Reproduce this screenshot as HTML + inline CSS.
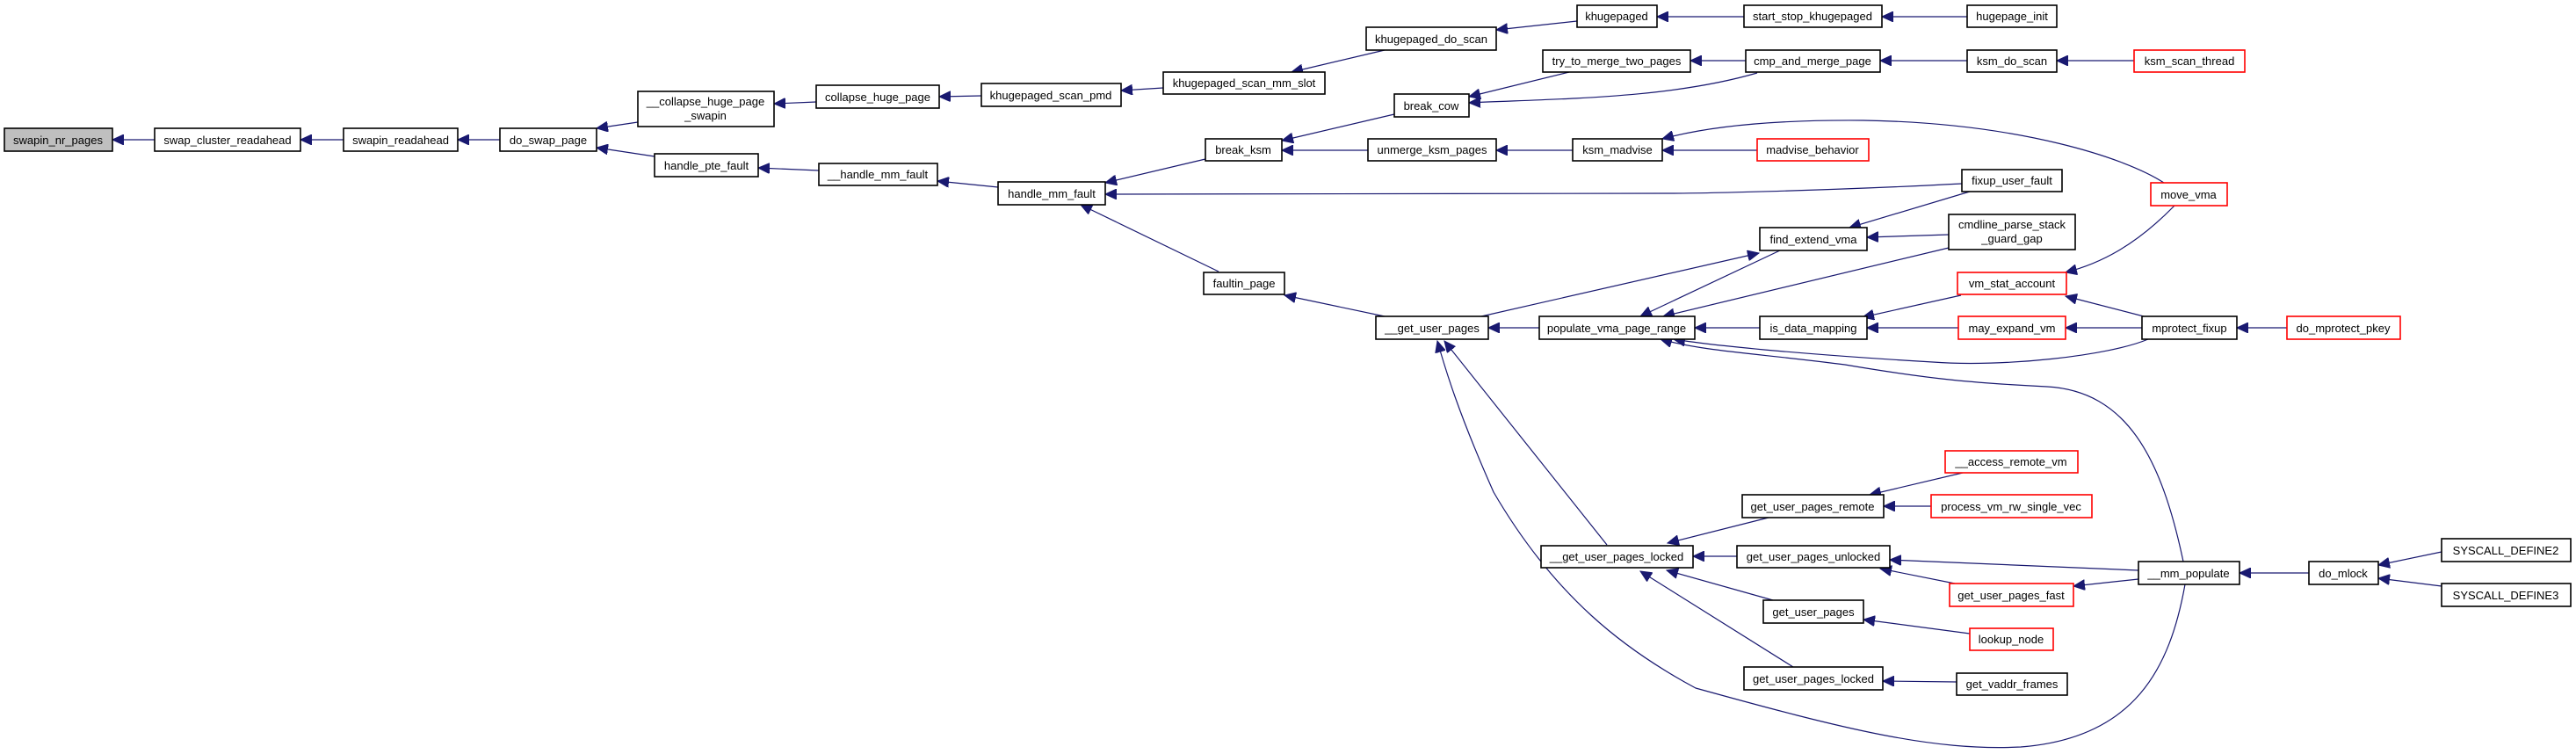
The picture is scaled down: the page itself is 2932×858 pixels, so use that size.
<!DOCTYPE html>
<html><head><meta charset="utf-8"><style>
html,body{margin:0;padding:0;background:#fff;}
svg{display:block;}
text{font-family:"Liberation Sans",Arial,sans-serif;font-size:13px;fill:#000;text-anchor:middle;}
.n{fill:#fff;stroke:#000;stroke-width:1.6;}
.r{fill:#fff;stroke:#ff0000;stroke-width:1.6;}
.g{fill:#bfbfbf;stroke:#000;stroke-width:1.6;}
.e{fill:none;stroke:#191970;stroke-width:1.2;marker-end:url(#a);}
</style></head><body>
<svg width="2932" height="858" viewBox="0 0 2932 858" xmlns="http://www.w3.org/2000/svg">
<defs><marker id="a" markerUnits="userSpaceOnUse" markerWidth="14" markerHeight="12" refX="13" refY="6" orient="auto"><path d="M0,0 L13,6 L0,12 z" fill="#191970" stroke="#191970"/></marker></defs>

<g>
<path class="e" d="M176,159 L128,159"/>
<path class="e" d="M391,159 L342,159"/>
<path class="e" d="M569,159 L521,159"/>
<path class="e" d="M726,139 L679,146"/>
<path class="e" d="M745,178 L679,168"/>
<path class="e" d="M929,116 L881,118"/>
<path class="e" d="M932,194 L863,191"/>
<path class="e" d="M1117,109 L1069,110"/>
<path class="e" d="M1324,100 L1276,103"/>
<path class="e" d="M1576,57 L1470,82"/>
<path class="e" d="M1795,24 L1703,34"/>
<path class="e" d="M1985,19 L1886,19"/>
<path class="e" d="M2239,19 L2142,19"/>
<path class="e" d="M1987,69 L1924,69"/>
<path class="e" d="M2000,83 C1900,112 1780,112 1672,117"/>
<path class="e" d="M1786,82 L1672,110"/>
<path class="e" d="M2239,69 L2140,69"/>
<path class="e" d="M2429,69 L2341,69"/>
<path class="e" d="M1587,130 L1459,160"/>
<path class="e" d="M1557,171 L1459,171"/>
<path class="e" d="M1790,171 L1703,171"/>
<path class="e" d="M2000,171 L1892,171"/>
<path class="e" d="M2463,208 C2420,180 2300,140 2121,137 C2010,136 1940,145 1892,158"/>
<path class="e" d="M2233,209 C2100,216 1950,220 1900,220 L1258,221"/>
<path class="e" d="M1136,213 L1067,206"/>
<path class="e" d="M1372,181 L1258,208"/>
<path class="e" d="M1387,309 L1230,233"/>
<path class="e" d="M1576,360 L1462,336"/>
<path class="e" d="M1686,360 L2002,288"/>
<path class="e" d="M2026,285 L1867,360"/>
<path class="e" d="M2242,218 L2105,259"/>
<path class="e" d="M2218,267 L2125,270"/>
<path class="e" d="M2218,282 L1893,360"/>
<path class="e" d="M1752,373 L1694,373"/>
<path class="e" d="M2003,373 L1929,373"/>
<path class="e" d="M2232,336 L2120,361"/>
<path class="e" d="M2229,373 L2125,373"/>
<path class="e" d="M2440,360 L2351,337"/>
<path class="e" d="M2438,373 L2351,373"/>
<path class="e" d="M2475,234 C2430,280 2390,300 2351,310"/>
<path class="e" d="M2603,373 L2546,373"/>
<path class="e" d="M2445,386 C2400,405 2280,418 2200,412 C2080,405 1960,395 1905,386"/>
<path class="e" d="M2485,639 C2460,520 2420,445 2330,440 C2250,436 2200,432 2100,415 C2000,402 1940,400 1890,386"/>
<path class="e" d="M1829,620 L1644,388"/>
<path class="e" d="M2487,665 C2470,760 2430,840 2300,850 C2200,855 2100,830 1930,783 C1850,740 1770,680 1700,560 C1660,470 1645,420 1636,388"/>
<path class="e" d="M2013,589 L1898,618"/>
<path class="e" d="M1977,633 L1927,633"/>
<path class="e" d="M2018,683 L1897,649"/>
<path class="e" d="M2041,759 L1867,650"/>
<path class="e" d="M2234,538 L2128,563"/>
<path class="e" d="M2198,576 L2144,576"/>
<path class="e" d="M2434,649 L2151,637"/>
<path class="e" d="M2225,664 L2140,647"/>
<path class="e" d="M2434,659 L2360,667"/>
<path class="e" d="M2242,721 L2121,705"/>
<path class="e" d="M2227,776 L2143,775"/>
<path class="e" d="M2628,652 L2549,652"/>
<path class="e" d="M2779,628 L2707,643"/>
<path class="e" d="M2779,667 L2707,658"/>
</g>

<g>
<rect class="g" x="5" y="146" width="123" height="26"/><text x="66" y="164">swapin_nr_pages</text>
<rect class="n" x="176" y="146" width="166" height="26"/><text x="259" y="164">swap_cluster_readahead</text>
<rect class="n" x="391" y="146" width="130" height="26"/><text x="456" y="164">swapin_readahead</text>
<rect class="n" x="569" y="146" width="110" height="26"/><text x="624" y="164">do_swap_page</text>
<rect class="n" x="726" y="104" width="155" height="40"/><text x="803" y="120">__collapse_huge_page</text><text x="803" y="136">_swapin</text>
<rect class="n" x="745" y="175" width="118" height="26"/><text x="804" y="193">handle_pte_fault</text>
<rect class="n" x="929" y="97" width="140" height="26"/><text x="999" y="115">collapse_huge_page</text>
<rect class="n" x="932" y="186" width="135" height="25"/><text x="999" y="203">__handle_mm_fault</text>
<rect class="n" x="1117" y="95" width="159" height="26"/><text x="1196" y="113">khugepaged_scan_pmd</text>
<rect class="n" x="1324" y="82" width="184" height="25"/><text x="1416" y="99">khugepaged_scan_mm_slot</text>
<rect class="n" x="1555" y="31" width="148" height="26"/><text x="1629" y="49">khugepaged_do_scan</text>
<rect class="n" x="1795" y="6" width="91" height="25"/><text x="1840" y="23">khugepaged</text>
<rect class="n" x="1756" y="57" width="168" height="25"/><text x="1840" y="74">try_to_merge_two_pages</text>
<rect class="n" x="1587" y="107" width="85" height="26"/><text x="1629" y="125">break_cow</text>
<rect class="n" x="1372" y="158" width="87" height="25"/><text x="1415" y="175">break_ksm</text>
<rect class="n" x="1557" y="158" width="146" height="25"/><text x="1630" y="175">unmerge_ksm_pages</text>
<rect class="n" x="1790" y="158" width="102" height="25"/><text x="1841" y="175">ksm_madvise</text>
<rect class="n" x="1136" y="207" width="122" height="26"/><text x="1197" y="225">handle_mm_fault</text>
<rect class="n" x="1370" y="310" width="92" height="25"/><text x="1416" y="327">faultin_page</text>
<rect class="n" x="1566" y="360" width="128" height="26"/><text x="1630" y="378">__get_user_pages</text>
<rect class="n" x="1752" y="360" width="177" height="26"/><text x="1840" y="378">populate_vma_page_range</text>
<rect class="n" x="1985" y="6" width="157" height="25"/><text x="2063" y="23">start_stop_khugepaged</text>
<rect class="n" x="2239" y="6" width="102" height="25"/><text x="2290" y="23">hugepage_init</text>
<rect class="n" x="1987" y="57" width="153" height="25"/><text x="2063" y="74">cmp_and_merge_page</text>
<rect class="n" x="2239" y="57" width="102" height="25"/><text x="2290" y="74">ksm_do_scan</text>
<rect class="r" x="2429" y="57" width="126" height="25"/><text x="2492" y="74">ksm_scan_thread</text>
<rect class="r" x="2000" y="158" width="127" height="25"/><text x="2063" y="175">madvise_behavior</text>
<rect class="n" x="2233" y="193" width="114" height="25"/><text x="2290" y="210">fixup_user_fault</text>
<rect class="r" x="2448" y="208" width="87" height="26"/><text x="2491" y="226">move_vma</text>
<rect class="n" x="2003" y="259" width="122" height="26"/><text x="2064" y="277">find_extend_vma</text>
<rect class="n" x="2218" y="244" width="144" height="40"/><text x="2290" y="260">cmdline_parse_stack</text><text x="2290" y="276">_guard_gap</text>
<rect class="r" x="2228" y="310" width="124" height="25"/><text x="2290" y="327">vm_stat_account</text>
<rect class="n" x="2003" y="360" width="122" height="26"/><text x="2064" y="378">is_data_mapping</text>
<rect class="r" x="2229" y="360" width="122" height="26"/><text x="2290" y="378">may_expand_vm</text>
<rect class="n" x="2438" y="360" width="108" height="26"/><text x="2492" y="378">mprotect_fixup</text>
<rect class="r" x="2603" y="360" width="129" height="26"/><text x="2667" y="378">do_mprotect_pkey</text>
<rect class="n" x="1754" y="621" width="173" height="25"/><text x="1840" y="638">__get_user_pages_locked</text>
<rect class="n" x="1983" y="563" width="161" height="26"/><text x="2063" y="581">get_user_pages_remote</text>
<rect class="n" x="1977" y="621" width="174" height="25"/><text x="2064" y="638">get_user_pages_unlocked</text>
<rect class="n" x="2007" y="683" width="114" height="26"/><text x="2064" y="701">get_user_pages</text>
<rect class="n" x="1985" y="759" width="158" height="26"/><text x="2064" y="777">get_user_pages_locked</text>
<rect class="r" x="2214" y="513" width="151" height="25"/><text x="2289" y="530">__access_remote_vm</text>
<rect class="r" x="2198" y="563" width="183" height="26"/><text x="2289" y="581">process_vm_rw_single_vec</text>
<rect class="r" x="2219" y="664" width="141" height="26"/><text x="2289" y="682">get_user_pages_fast</text>
<rect class="r" x="2242" y="715" width="95" height="25"/><text x="2289" y="732">lookup_node</text>
<rect class="n" x="2227" y="766" width="126" height="25"/><text x="2290" y="783">get_vaddr_frames</text>
<rect class="n" x="2434" y="639" width="115" height="26"/><text x="2491" y="657">__mm_populate</text>
<rect class="n" x="2628" y="639" width="79" height="26"/><text x="2667" y="657">do_mlock</text>
<rect class="n" x="2779" y="613" width="147" height="26"/><text x="2852" y="631">SYSCALL_DEFINE2</text>
<rect class="n" x="2779" y="664" width="147" height="26"/><text x="2852" y="682">SYSCALL_DEFINE3</text>
</g>
</svg>
</body></html>
